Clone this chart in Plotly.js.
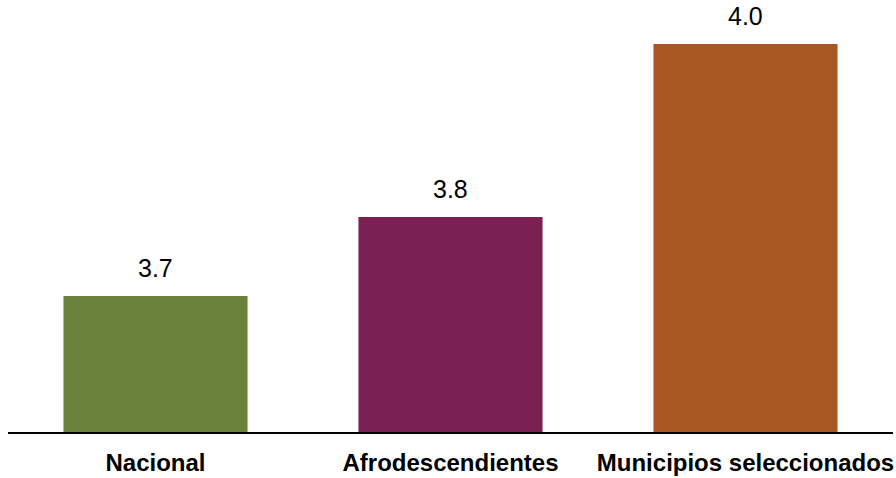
<!DOCTYPE html>
<html>
<head>
<meta charset="utf-8">
<script src="https://cdn.plot.ly/plotly-3.0.1.min.js"></script>
<style>html,body{margin:0;padding:0;background:#fff;}#chart{width:896px;height:478px;}</style>
</head>
<body>
<div id="chart"></div>
<script>
const categories = ["Nacional", "Afrodescendientes", "Municipios seleccionados"];
const values = [3.736, 3.815, 3.988];
const labels = ["3.7", "3.8", "4.0"];
const colors = ["#6A813A", "#7B2052", "#A85622"];

const trace = {
  type: "bar",
  x: categories,
  y: values,
  marker: {color: colors},
  hoverinfo: "skip"
};

const annotations = categories.map((c, i) => ({
  x: c, y: values[i], text: labels[i],
  xref: "x", yref: "y",
  showarrow: false, yanchor: "bottom", yshift: 12,
  font: {family: "Liberation Sans, Arial, sans-serif", size: 25, color: "#000"}
}));

const layout = {
  width: 896, height: 478,
  margin: {l: 8, r: 3, t: 11, b: 46},
  paper_bgcolor: "#fff", plot_bgcolor: "#fff",
  showlegend: false,
  bargap: 0.376,
  xaxis: {
    showline: true, linecolor: "#000", linewidth: 2,
    ticks: "", showgrid: false, zeroline: false,
    ticklabelstandoff: 8,
    tickfont: {family: "Liberation Sans, Arial, sans-serif", size: 24, color: "#000", weight: "bold"}
  },
  yaxis: {
    range: [3.6, 4.021], visible: false, showgrid: false, zeroline: false
  },
  annotations: annotations
};

Plotly.newPlot("chart", [trace], layout, {displayModeBar: false, staticPlot: true});
</script>
</body>
</html>
